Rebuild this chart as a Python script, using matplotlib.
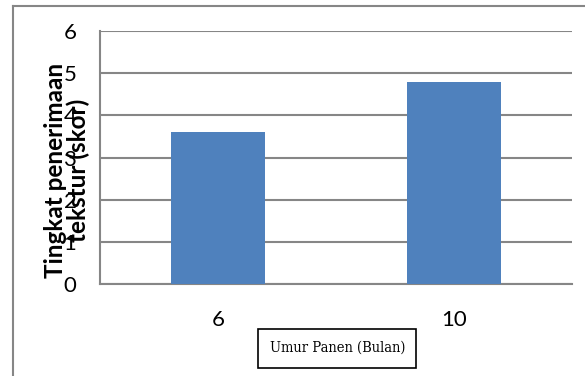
import matplotlib
matplotlib.use("Agg")
import matplotlib.pyplot as plt
from matplotlib.lines import Line2D
from matplotlib.patches import Rectangle

categories = ["6", "10"]
scores = [3.6, 4.8]
y_ticks = [0, 1, 2, 3, 4, 5, 6]
y_label = "Tingkat penerimaan\ntekstur (skor)"
x_label = "Umur Panen (Bulan)"

bar_color = "#4F81BD"
grid_color = "#868686"

fig = plt.figure(figsize=(5.85, 3.76), dpi=100)
ax = fig.add_axes([100 / 585, 92 / 376, 472 / 585, 253 / 376])

x = range(len(categories))
ax.bar(x, scores, width=0.4, color=bar_color, zorder=3)

ax.set_xlim(-0.5, len(categories) - 0.5)
ax.set_ylim(0, 6)
ax.set_yticks(y_ticks)
ax.set_xticks(list(x))
ax.set_xticklabels(categories)

ax.yaxis.grid(True, color=grid_color, linewidth=1.5, zorder=0)
for side in ("top", "right"):
    ax.spines[side].set_visible(False)
for side in ("left", "bottom"):
    ax.spines[side].set_color(grid_color)
    ax.spines[side].set_linewidth(1.5)

ax.tick_params(axis="both", length=0, labelsize=16)
ax.tick_params(axis="x", pad=19)
ax.tick_params(axis="y", pad=17)
for lab in ax.get_xticklabels() + ax.get_yticklabels():
    lab.set_fontfamily("Lato")

fig.text(67 / 585, 1 - 170 / 376, y_label, rotation=90, ha="center", va="center",
         multialignment="center", fontsize=17.5, fontweight="bold", fontfamily="Lato",
         linespacing=0.95)

# caption box under the categories
fig.patches.append(Rectangle((258 / 585, 1 - 368 / 376), 158 / 585, 39 / 376,
                             transform=fig.transFigure, fill=False,
                             edgecolor="black", linewidth=1.2))
fig.text(338 / 585, 1 - 348 / 376, x_label, ha="center", va="center",
         fontsize=10.5, fontfamily="DejaVu Serif", fontstretch="condensed")

# outer frame (top and left edges)
fig.add_artist(Line2D([13 / 585, 1], [1 - 6 / 376, 1 - 6 / 376],
                      transform=fig.transFigure, color=grid_color, linewidth=1.5))
fig.add_artist(Line2D([13 / 585, 13 / 585], [0, 1 - 6 / 376],
                      transform=fig.transFigure, color=grid_color, linewidth=1.5))

fig.savefig("out.png", dpi=100)
